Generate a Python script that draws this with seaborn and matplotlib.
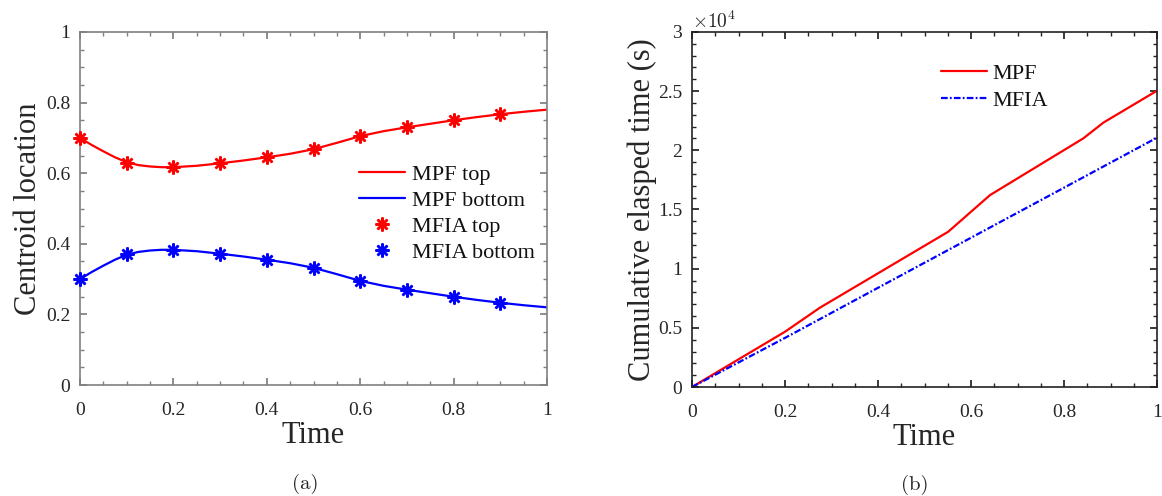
import numpy as np
import pandas as pd
import matplotlib
matplotlib.use("Agg")
import matplotlib.pyplot as plt
import seaborn as sns
from matplotlib.ticker import MultipleLocator

sns.set_theme(style="white")
plt.rcParams['font.family'] = ['Liberation Serif', 'DejaVu Serif']
plt.rcParams['mathtext.fontset'] = 'cm'

# ---- data (a) ----
t_curve = [0.0, 0.025, 0.05, 0.075, 0.1, 0.125, 0.15, 0.175, 0.2, 0.25, 0.3, 0.35,
           0.4, 0.45, 0.5, 0.55, 0.6, 0.65, 0.7, 0.75, 0.8, 0.85, 0.9, 0.95, 1.0]
mpf_top = [0.700, 0.680, 0.662, 0.645, 0.631, 0.623, 0.619, 0.617, 0.617, 0.621, 0.628,
           0.636, 0.645, 0.655, 0.668, 0.686, 0.705, 0.719, 0.730, 0.740, 0.750,
           0.759, 0.767, 0.774, 0.780]
mpf_bottom = [0.300, 0.320, 0.338, 0.355, 0.369, 0.377, 0.381, 0.383, 0.383, 0.379, 0.372,
              0.364, 0.355, 0.345, 0.332, 0.314, 0.295, 0.281, 0.270, 0.260, 0.250,
              0.241, 0.233, 0.226, 0.220]
t_mark = [0.0, 0.1, 0.2, 0.3, 0.4, 0.5, 0.6, 0.7, 0.8, 0.9]
mfia_top = [0.700, 0.630, 0.617, 0.628, 0.645, 0.668, 0.705, 0.730, 0.750, 0.767]
mfia_bottom = [0.300, 0.370, 0.383, 0.372, 0.355, 0.332, 0.295, 0.270, 0.250, 0.233]

# ---- data (b) ----
t_mpf = [0.0, 0.2, 0.275, 0.551, 0.641, 0.8415, 0.8846, 1.0]
time_mpf = [0, 4670, 6700, 13120, 16220, 21010, 22340, 25040]
t_mfia = [0.0, 0.2, 0.5, 1.0]
time_mfia = [0, 4150, 10500, 21070]

fig = plt.figure(figsize=(11.62, 4.96), dpi=100)
ax1 = fig.add_axes([80/1162, 1-385/496, 467/1162, 353/496])
ax2 = fig.add_axes([692/1162, 1-387/496, 465/1162, 355/496])

df_a = pd.DataFrame({'t': t_curve, 'top': mpf_top, 'bottom': mpf_bottom})
df_m = pd.DataFrame({'t': t_mark, 'top': mfia_top, 'bottom': mfia_bottom})

sns.lineplot(data=df_a, x='t', y='top', ax=ax1, color='#ff0000', lw=1.6, label='MPF top')
sns.lineplot(data=df_a, x='t', y='bottom', ax=ax1, color='#0000ff', lw=1.6, label='MPF bottom')
star = (8, 2, 0)
ax1.plot(df_m['t'], df_m['top'], ls='none', marker=star, ms=10, mew=1.8,
         color='#ff0000', label='MFIA top', clip_on=False, zorder=5)
ax1.plot(df_m['t'], df_m['bottom'], ls='none', marker=star, ms=10, mew=1.8,
         color='#0000ff', label='MFIA bottom', clip_on=False, zorder=5)

df_b1 = pd.DataFrame({'t': t_mpf, 'v': time_mpf})
df_b2 = pd.DataFrame({'t': t_mfia, 'v': time_mfia})
sns.lineplot(data=df_b1, x='t', y='v', ax=ax2, color='#ff0000', lw=1.6, label='MPF')
sns.lineplot(data=df_b2, x='t', y='v', ax=ax2, color='#0000ff', lw=1.6, label='MFIA')
ax2.lines[-1].set_dashes([3.0, 1.0, 0.8, 1.0])

axcol1 = '#808080'
axcol2 = '#222222'
for ax, col in ((ax1, axcol1), (ax2, axcol2)):
    ax.set_xlim(0, 1)
    for s in ax.spines.values():
        s.set_visible(True)
        s.set_color(col)
        s.set_linewidth(1.2)
    ax.xaxis.set_minor_locator(MultipleLocator(0.05))
    ax.tick_params(which='both', direction='in', top=True, right=True,
                   bottom=True, left=True, color=col, labelcolor='#262626')
    ax.tick_params(which='major', length=5, labelsize=14)
    ax.tick_params(which='minor', length=3)
    ax.tick_params(axis='x', which='major', pad=12)
    ax.tick_params(axis='y', which='major', pad=7)
    ax.set_xticks([0, 0.2, 0.4, 0.6, 0.8, 1.0])
    ax.set_xticklabels(['0', '0.2', '0.4', '0.6', '0.8', '1'])
    ax.set_xlabel('Time', fontsize=22, color='#262626', labelpad=2)

ax1.set_ylim(0, 1)
ax1.yaxis.set_minor_locator(MultipleLocator(0.05))
ax1.set_yticks([0, 0.2, 0.4, 0.6, 0.8, 1.0])
ax1.set_yticklabels(['0', '0.2', '0.4', '0.6', '0.8', '1'])
ax1.set_ylabel('Centroid location', fontsize=22, color='#262626', labelpad=2)

ax2.set_ylim(0, 30000)
ax2.set_yticks([0, 5000, 10000, 15000, 20000, 25000, 30000])
ax2.set_yticklabels(['0', '0.5', '1', '1.5', '2', '2.5', '3'])
ax2.yaxis.set_minor_locator(MultipleLocator(1000))
ax2.set_ylabel('Cumulative elasped time (s)', fontsize=22, color='#262626', labelpad=1)
ax2.text(0.0, 1.0, r'$\times10^4$', transform=ax2.transAxes, fontsize=14,
         color='#262626', ha='left', va='bottom')

leg1 = ax1.legend(loc='upper left', bbox_to_anchor=(0.597, 0.625), frameon=False,
                  fontsize=16, handlelength=2.1, handletextpad=0.3,
                  labelspacing=0.24, borderaxespad=0, borderpad=0)
leg2 = ax2.legend(loc='upper left', bbox_to_anchor=(0.535, 0.911), frameon=False,
                  fontsize=16, handlelength=2.1, handletextpad=0.2,
                  labelspacing=0.28, borderaxespad=0, borderpad=0)
for leg in (leg1, leg2):
    for txt in leg.get_texts():
        txt.set_color('#111111')

fig.text(305/1162, 1-484/496, '(a)', fontsize=15, ha='center', va='center',
         family=['cmr10', 'DejaVu Serif'])
fig.text(915/1162, 1-485/496, '(b)', fontsize=15, ha='center', va='center',
         family=['cmr10', 'DejaVu Serif'])

fig.savefig('out.png', dpi=100)
